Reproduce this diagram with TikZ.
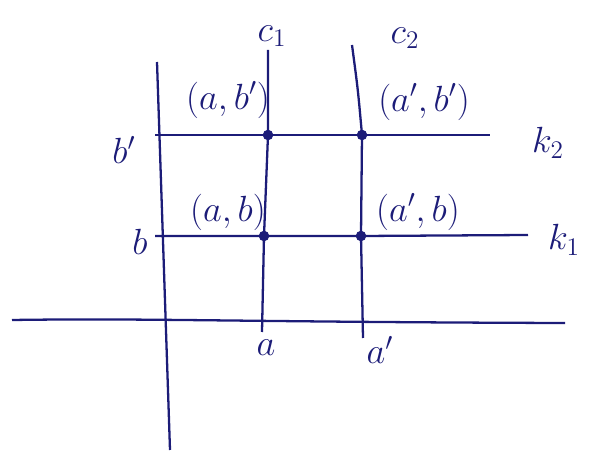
\documentclass[tikz,border=0pt]{standalone}
\usepackage{amsmath,amssymb}
\definecolor{ink}{RGB}{28,28,120}

\begin{document}
\begin{tikzpicture}[x=0.02cm,y=-0.02cm,
  ln/.style={draw=ink,line width=1.3pt},
  dot/.style={circle,fill=ink,inner sep=0pt,minimum size=6pt},
  lab/.style={text=ink,font=\huge}]
  \useasboundingbox (0,0) rectangle (589,459);
  % axes
  \coordinate (yt) at (157,62);
  \coordinate (yb) at (170,450);
  \coordinate (xl) at (12,320);
  \coordinate (xr) at (565,323);
  \draw [ln] (yt) -- (yb);
  \draw [ln] (xl) .. controls (150,318) and (240,322) .. (xr);
  % intersection points
  \node [dot] (ab2) at (268,135) {};
  \node [dot] (a2b2) at (362,135) {};
  \node [dot] (ab) at (264,236) {};
  \node [dot] (a2b) at (361,236) {};
  % curves c1, c2
  \coordinate (c1t) at (268,50);
  \coordinate (c1b) at (262,332);
  \coordinate (c2t) at (352,45);
  \coordinate (c2b) at (363,338);
  \draw [ln] (c1t) -- (ab2.center) -- (ab.center) -- (c1b);
  \draw [ln] (c2t) .. controls (358,90) .. (a2b2.center) -- (a2b.center) -- (c2b);
  % lines k1, k2
  \coordinate (k2l) at (155,135);
  \coordinate (k2r) at (490,135);
  \coordinate (k1l) at (155,236);
  \coordinate (k1r) at (528,235);
  \draw [ln] (k2l) -- (ab2.center) -- (a2b2.center) -- (k2r);
  \draw [ln] (k1l) -- (ab.center) -- (a2b.center) -- (k1r);
  % labels
  \node [lab] (c1) at (272,36) {$c_1$};
  \node [lab] (c2) at (405,38) {$c_2$};
  \node [lab] (k2) at (548,143) {$k_2$};
  \node [lab] (k1) at (564,240) {$k_1$};
  \node [lab] (lb2) at (124,150) {$b'$};
  \node [lab] (lb) at (140,242) {$b$};
  \node [lab] (la) at (266,348) {$a$};
  \node [lab] (la2) at (380,350) {$a'$};
  \node [lab] (tab2) at (228,100) {$(a,b')$};
  \node [lab] (ta2b2) at (424,102) {$(a',b')$};
  \node [lab] (tab) at (228,212) {$(a,b)$};
  \node [lab] (ta2b) at (418,212) {$(a',b)$};
\end{tikzpicture}
\end{document}
